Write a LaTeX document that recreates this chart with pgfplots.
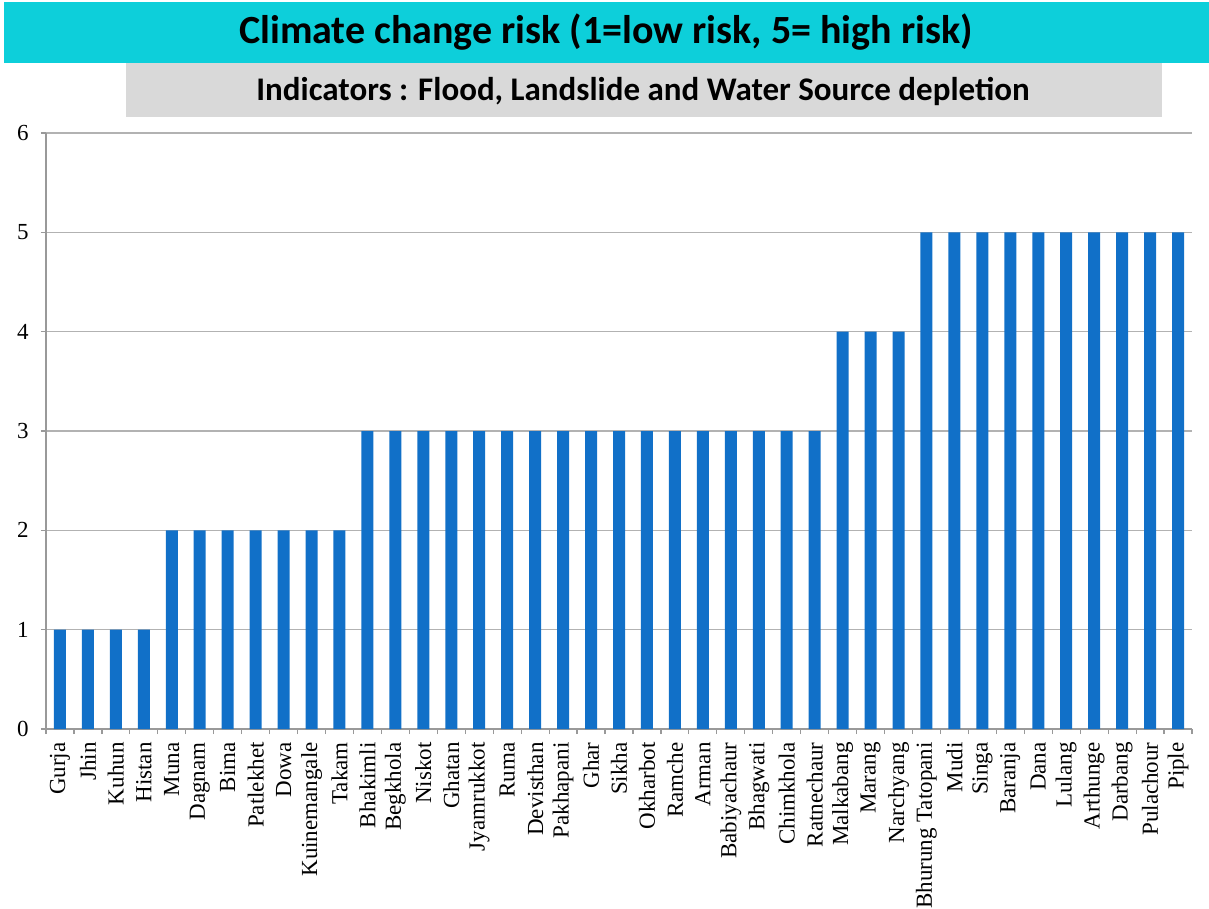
\documentclass[border=0pt]{standalone}
\usepackage{pgfplots}
\pgfplotsset{compat=1.18}
\usepackage{fontspec}
\setmainfont{Liberation Serif}
\newfontfamily\calibri{Carlito}
\definecolor{banner}{HTML}{0DCFDA}
\definecolor{subbox}{HTML}{D9D9D9}
\definecolor{barblue}{HTML}{1170C8}
\begin{document}
\begin{tikzpicture}
\useasboundingbox (0pt,0pt) rectangle (604.5pt,-454.5pt);
\fill[banner] (2pt,-1pt) rectangle (604.5pt,-31.5pt);
\fill[subbox] (63pt,-31.5pt) rectangle (581pt,-58.5pt);
\node[anchor=base,font=\calibri\bfseries\fontsize{20}{24}\selectfont] at (303pt,-22pt) {Climate change risk (1=low risk, 5= high risk)};
\node[anchor=base,font=\calibri\bfseries\fontsize{16.5}{19}\selectfont] at (321.5pt,-50.5pt) {Indicators : Flood, Landslide and Water Source depletion};
\begin{axis}[
  at={(23pt,-364.5pt)}, anchor=south west,
  scale only axis, width=573pt, height=298pt,
  ymin=0, ymax=6, xmin=-0.5, xmax=40.5,
  ytick={0,1,2,3,4,5,6},
  ymajorgrids, grid style={color=black!30, line width=0.6pt},
  axis x line=bottom, axis y line=left,
  axis line style={-, color=black!40, line width=0.6pt},
  tick style={color=black!40, line width=0.6pt},
  tick align=outside, major tick length=2.5pt,
  xtick={-0.5,0.5,...,40.5},
  x tick label as interval,
  xticklabels={Gurja,Jhin,Kuhun,Histan,Muna,Dagnam,Bima,Patlekhet,Dowa,Kuinemangale,Takam,Bhakimli,Begkhola,Niskot,Ghatan,Jyamrukkot,Ruma,Devisthan,Pakhapani,Ghar,Sikha,Okharbot,Ramche,Arman,Babiyachaur,Bhagwati,Chimkhola,Ratnechaur,Malkabang,Marang,Narchyang,Bhurung Tatopani,Mudi,Singa,Baranja,Dana,Lulang,Arthunge,Darbang,Pulachour,Piple},
  xticklabel style={yshift=-4pt, rotate=90, anchor=east, inner sep=0pt, font=\fontsize{11.5}{13}\selectfont},
  yticklabel style={inner sep=0pt, xshift=-6pt, font=\fontsize{11.5}{13}\selectfont},
  /pgf/number format/assume math mode=true,
]
\addplot[ybar, bar width=6pt, fill=barblue, draw=none] coordinates {
(0,1) (1,1) (2,1) (3,1)
(4,2) (5,2) (6,2) (7,2) (8,2) (9,2) (10,2)
(11,3) (12,3) (13,3) (14,3) (15,3) (16,3) (17,3) (18,3) (19,3) (20,3) (21,3) (22,3) (23,3) (24,3) (25,3) (26,3) (27,3)
(28,4) (29,4) (30,4)
(31,5) (32,5) (33,5) (34,5) (35,5) (36,5) (37,5) (38,5) (39,5) (40,5)
};
\end{axis}
\end{tikzpicture}
\end{document}
